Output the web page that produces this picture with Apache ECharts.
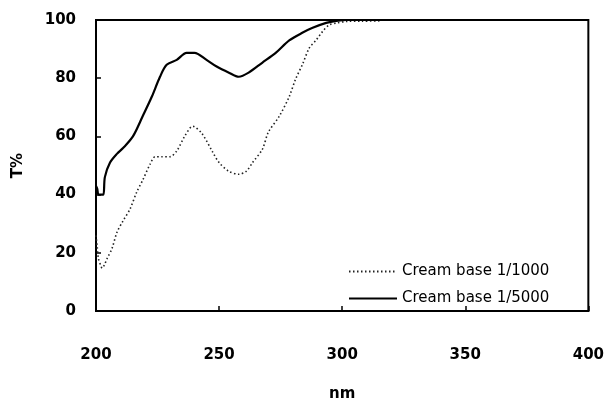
<!DOCTYPE html>
<html>
<head>
<meta charset="utf-8">
<script src="https://cdn.jsdelivr.net/npm/echarts@6/dist/echarts.min.js"></script>
<style>
  html, body { margin: 0; padding: 0; background: #fff; }
  #chart { width: 607px; height: 407px; }
</style>
</head>
<body>
<div id="chart"></div>
<script>
// Cream base 1/1000 (dotted)
const nm1000 = [200, 200.5, 201, 202, 202.5, 203.5, 204.5, 206.5, 208.5, 211, 213.8, 216.6, 219, 222, 224, 226.7, 230, 232.8, 236, 239.3, 243, 247.4, 250, 254, 258, 261, 263.6, 267.6, 270, 274.5, 278.5, 281, 284, 286.6, 289.5, 292, 294.7, 298, 302, 308, 316];
const t1000 = [26, 22, 18, 15.5, 14.7, 16, 18, 21.5, 27, 31, 35, 41, 45, 50.5, 53, 53, 53, 55, 60, 63.5, 61, 54.6, 51, 48, 47, 48, 51, 55.6, 61.4, 67, 73.7, 79.5, 85, 90.3, 93.2, 96, 98.3, 99, 99.5, 99.6, 99.7];

// Cream base 1/5000 (solid)
const nm5000 = [200, 200.5, 201, 202, 203, 203.6, 205.7, 208.5, 211, 215, 219, 222.7, 226, 228.7, 232.8, 236.8, 240, 244.9, 249, 254, 258, 262, 267.5, 273, 278.5, 283.8, 288, 293.5, 297.6, 302, 310, 318];
const t5000 = [43, 42, 40, 40, 40, 46, 51, 54, 56, 60, 67, 73.7, 80.5, 84.6, 86.3, 88.7, 88.7, 86.3, 84, 81.9, 80.5, 81.9, 85.3, 88.7, 93, 95.6, 97.3, 99, 99.7, 100, 100, 100];

const seriesNames = ['Cream base 1/1000', 'Cream base 1/5000'];

const zip = (xs, ys) => xs.map((x, i) => [x, ys[i]]);

const chart = echarts.init(document.getElementById('chart'));

const labelFont = { color: '#000', fontSize: 15, fontWeight: 'bold', fontFamily: 'DejaVu Sans' };

chart.setOption({
  animation: false,
  backgroundColor: '#fff',
  grid: {
    left: 96, right: 17, top: 20, bottom: 94,
    show: true, borderColor: '#000', borderWidth: 2
  },
  legend: {
    orient: 'vertical',
    left: 343, top: 259,
    itemWidth: 48, itemHeight: 10, itemGap: 12,
    itemStyle: { opacity: 0 },
    textStyle: { color: '#000', fontSize: 15, fontFamily: 'DejaVu Sans' },
    data: seriesNames
  },
  xAxis: {
    type: 'value',
    min: 200, max: 400, interval: 50,
    name: 'nm', nameLocation: 'middle', nameGap: 76,
    nameTextStyle: labelFont,
    axisLine: { lineStyle: { color: '#000', width: 2 } },
    axisTick: { inside: true, length: 5, lineStyle: { color: '#000', width: 1.5 } },
    axisLabel: Object.assign({ margin: 37 }, labelFont),
    splitLine: { show: false }
  },
  yAxis: {
    type: 'value',
    min: 0, max: 100, interval: 20,
    name: 'T%', nameLocation: 'middle', nameGap: 70,
    nameTextStyle: labelFont,
    axisLine: { show: true, lineStyle: { color: '#000', width: 2 } },
    axisTick: { show: true, inside: true, length: 5, lineStyle: { color: '#000', width: 1.5 } },
    axisLabel: Object.assign({ margin: 20 }, labelFont),
    splitLine: { show: false }
  },
  series: [
    {
      name: seriesNames[0],
      type: 'line',
      symbol: 'none',
      smooth: 0.3,
      data: zip(nm1000, t1000),
      lineStyle: { color: '#222', width: 1.6, type: [1.5, 2.5] },
      itemStyle: { color: '#222' }
    },
    {
      name: seriesNames[1],
      type: 'line',
      symbol: 'none',
      smooth: 0.3,
      data: zip(nm5000, t5000),
      lineStyle: { color: '#000', width: 2.2 },
      itemStyle: { color: '#000' }
    }
  ]
});
</script>
</body>
</html>
